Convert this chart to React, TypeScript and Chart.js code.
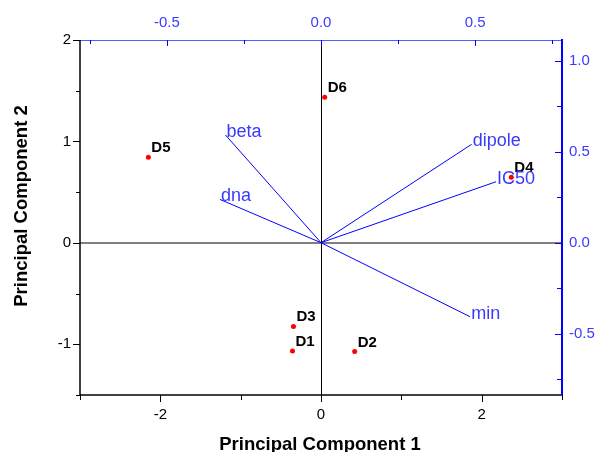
import React, { useEffect, useRef } from 'react';
import { Chart, registerables } from 'chart.js';

Chart.register(...registerables);

// ---- data ----
const SAMPLES = ['D1', 'D2', 'D3', 'D4', 'D5', 'D6'];
const PC1_SCORES = [-0.355, 0.419, -0.343, 2.369, -2.149, 0.046];
const PC2_SCORES = [-1.065, -1.072, -0.824, 0.647, 0.843, 1.435];

const VARIABLES = ['beta', 'dna', 'dipole', 'IC50', 'min'];
const PC1_LOADINGS = [-0.31, -0.328, 0.489, 0.568, 0.484];
const PC2_LOADINGS = [0.592, 0.238, 0.541, 0.335, -0.407];

const BOTTOM_TICKS = [-3, -2, -1, 0, 1, 2, 3];
const BOTTOM_LABELS = [-2, 0, 2];
const LEFT_TICKS = [-1.5, -1, -0.5, 0, 0.5, 1, 1.5, 2];
const LEFT_LABELS = [-1, 0, 1, 2];
const TOP_TICKS = [-0.75, -0.5, -0.25, 0, 0.25, 0.5, 0.75];
const TOP_LABELS = [-0.5, 0, 0.5];
const RIGHT_TICKS = [-0.75, -0.5, -0.25, 0, 0.25, 0.5, 0.75, 1];
const RIGHT_LABELS = [-0.5, 0, 0.5, 1];

const X_TITLE = 'Principal Component 1';
const Y_TITLE = 'Principal Component 2';

const FONT = '"Liberation Sans", Arial, sans-serif';
const BLUE = '#0000ff';
const BLUE_TEXT = '#3a3aff';

const near = (a: number, b: number) => Math.abs(a - b) < 1e-9;
const isIn = (list: number[], v: number) => list.some((l) => near(l, v));

const biplotPlugin = {
  id: 'biplot',
  beforeDatasetsDraw(chart: any) {
    const { ctx, chartArea, scales } = chart;
    const { left, right, top, bottom } = chartArea;
    ctx.save();
    const y0 = scales.y.getPixelForValue(0);
    ctx.strokeStyle = '#808080';
    ctx.lineWidth = 2;
    ctx.beginPath();
    ctx.moveTo(left, Math.round(y0));
    ctx.lineTo(right, Math.round(y0));
    ctx.stroke();
    const x0 = Math.round(scales.x.getPixelForValue(0)) + 0.5;
    ctx.strokeStyle = '#000';
    ctx.lineWidth = 1;
    ctx.beginPath();
    ctx.moveTo(x0, top);
    ctx.lineTo(x0, bottom);
    ctx.stroke();
    ctx.restore();
  },
  afterDatasetsDraw(chart: any) {
    const { ctx, scales } = chart;
    ctx.save();
    ctx.textAlign = 'left';
    ctx.textBaseline = 'alphabetic';
    ctx.font = `bold 15px ${FONT}`;
    ctx.fillStyle = '#000';
    SAMPLES.forEach((name, i) => {
      const px = scales.x.getPixelForValue(PC1_SCORES[i]);
      const py = scales.y.getPixelForValue(PC2_SCORES[i]);
      ctx.fillText(name, px + 3, py - 5);
    });
    ctx.font = `18px ${FONT}`;
    ctx.fillStyle = BLUE_TEXT;
    VARIABLES.forEach((name, i) => {
      const px = scales.x2.getPixelForValue(PC1_LOADINGS[i]);
      const py = scales.y2.getPixelForValue(PC2_LOADINGS[i]);
      ctx.fillText(name, px + 1, py + 2);
    });
    ctx.restore();
  },
  afterDraw(chart: any) {
    const { ctx, chartArea, scales } = chart;
    const { left, right, top, bottom } = chartArea;
    ctx.save();
    const line = (x1: number, y1: number, x2: number, y2: number) => {
      ctx.beginPath();
      ctx.moveTo(x1, y1);
      ctx.lineTo(x2, y2);
      ctx.stroke();
    };
    // axis lines
    ctx.lineWidth = 1;
    ctx.strokeStyle = '#5a5aff';
    line(left, top + 0.5, right, top + 0.5);
    ctx.lineWidth = 1.5;
    ctx.strokeStyle = '#000';
    line(left, bottom, right + 1, bottom);
    line(left, top, left, bottom + 0.75);
    ctx.lineWidth = 2;
    ctx.strokeStyle = BLUE;
    line(right, top - 1, right, bottom);

    ctx.lineWidth = 1;
    // bottom ticks (outward)
    ctx.strokeStyle = '#000';
    BOTTOM_TICKS.forEach((v) => {
      const p = Math.round(scales.x.getPixelForValue(v)) + 0.5;
      const len = isIn(BOTTOM_LABELS, v) ? 7 : 5;
      line(p, bottom, p, bottom + len);
    });
    // left ticks (outward)
    LEFT_TICKS.forEach((v) => {
      const p = Math.round(scales.y.getPixelForValue(v)) + 0.5;
      const len = isIn(LEFT_LABELS, v) ? 7 : 4;
      line(left, p, left - len, p);
    });
    // top ticks (inward)
    ctx.strokeStyle = BLUE;
    TOP_TICKS.forEach((v) => {
      const p = Math.round(scales.x2.getPixelForValue(v)) + 0.5;
      const len = isIn(TOP_LABELS, v) ? 6 : 4;
      line(p, top, p, top + len);
    });
    // right ticks (inward)
    RIGHT_TICKS.forEach((v) => {
      const p = Math.round(scales.y2.getPixelForValue(v)) + 0.5;
      const len = isIn(RIGHT_LABELS, v) ? 7 : 5;
      line(right, p, right - len, p);
    });

    // axis titles
    ctx.fillStyle = '#000';
    ctx.font = `bold 18.5px ${FONT}`;
    ctx.textAlign = 'center';
    ctx.textBaseline = 'alphabetic';
    ctx.fillText(X_TITLE, (left + right) / 2 - 1, 450);
    ctx.translate(27, 206);
    ctx.rotate(-Math.PI / 2);
    ctx.fillText(Y_TITLE, 0, 0);
    ctx.restore();
  },
};

const tickFont = { family: FONT, size: 15 };

export default function App() {
  const ref = useRef<HTMLCanvasElement | null>(null);

  useEffect(() => {
    if (!ref.current) return;
    const loadingSets = VARIABLES.map((name, i) => ({
      label: name,
      data: [
        { x: 0, y: 0 },
        { x: PC1_LOADINGS[i], y: PC2_LOADINGS[i] },
      ],
      xAxisID: 'x2',
      yAxisID: 'y2',
      showLine: true,
      borderColor: BLUE,
      borderWidth: 1,
      pointRadius: 0,
      fill: false,
    }));
    const chart = new Chart(ref.current, {
      type: 'scatter',
      data: {
        datasets: [
          ...loadingSets,
          {
            label: 'scores',
            data: SAMPLES.map((_, i) => ({ x: PC1_SCORES[i], y: PC2_SCORES[i] })),
            xAxisID: 'x',
            yAxisID: 'y',
            backgroundColor: '#ff0000',
            borderWidth: 0,
            pointRadius: 2.5,
            showLine: false,
          },
        ] as any,
      },
      options: {
        animation: false,
        responsive: false,
        layout: { padding: 0 },
        plugins: { legend: { display: false }, tooltip: { enabled: false } },
        scales: {
          x: {
            type: 'linear',
            position: 'bottom',
            min: -3,
            max: 3,
            afterBuildTicks: (s: any) => {
              s.ticks = BOTTOM_TICKS.map((v) => ({ value: v }));
            },
            afterFit: (s: any) => {
              s.height = 57;
            },
            grid: { display: false, drawTicks: false },
            border: { display: false },
            ticks: {
              autoSkip: false,
              maxRotation: 0,
              padding: 11,
              color: '#000',
              font: tickFont,
              callback: (v: any) => (isIn(BOTTOM_LABELS, v) ? String(v) : ''),
            },
            title: { display: false },
          },
          y: {
            type: 'linear',
            position: 'left',
            min: -1.5,
            max: 2,
            afterBuildTicks: (s: any) => {
              s.ticks = LEFT_TICKS.map((v) => ({ value: v }));
            },
            afterFit: (s: any) => {
              s.width = 80;
            },
            grid: { display: false, drawTicks: false },
            border: { display: false },
            ticks: {
              autoSkip: false,
              padding: 9,
              color: '#000',
              font: tickFont,
              callback: (v: any) => (isIn(LEFT_LABELS, v) ? String(v) : ''),
            },
            title: { display: false },
          },
          x2: {
            type: 'linear',
            position: 'top',
            min: -0.782,
            max: 0.782,
            afterBuildTicks: (s: any) => {
              s.ticks = TOP_TICKS.map((v) => ({ value: v }));
            },
            afterFit: (s: any) => {
              s.height = 40;
            },
            grid: { display: false, drawTicks: false },
            border: { display: false },
            ticks: {
              autoSkip: false,
              maxRotation: 0,
              padding: 8,
              color: BLUE_TEXT,
              font: tickFont,
              callback: (v: any) => (isIn(TOP_LABELS, v) ? Number(v).toFixed(1) : ''),
            },
          },
          y2: {
            type: 'linear',
            position: 'right',
            min: -0.837,
            max: 1.114,
            afterBuildTicks: (s: any) => {
              s.ticks = RIGHT_TICKS.map((v) => ({ value: v }));
            },
            afterFit: (s: any) => {
              s.width = 37;
            },
            grid: { display: false, drawTicks: false },
            border: { display: false },
            ticks: {
              autoSkip: false,
              padding: 7,
              color: BLUE_TEXT,
              font: tickFont,
              callback: (v: any) => (isIn(RIGHT_LABELS, v) ? Number(v).toFixed(1) : ''),
            },
          },
        },
      } as any,
      plugins: [biplotPlugin],
    });
    return () => chart.destroy();
  }, []);

  return (
    <canvas
      ref={ref}
      width={599}
      height={452}
      style={{ position: 'fixed', left: 0, top: 0, display: 'block', background: '#fff' }}
    />
  );
}
